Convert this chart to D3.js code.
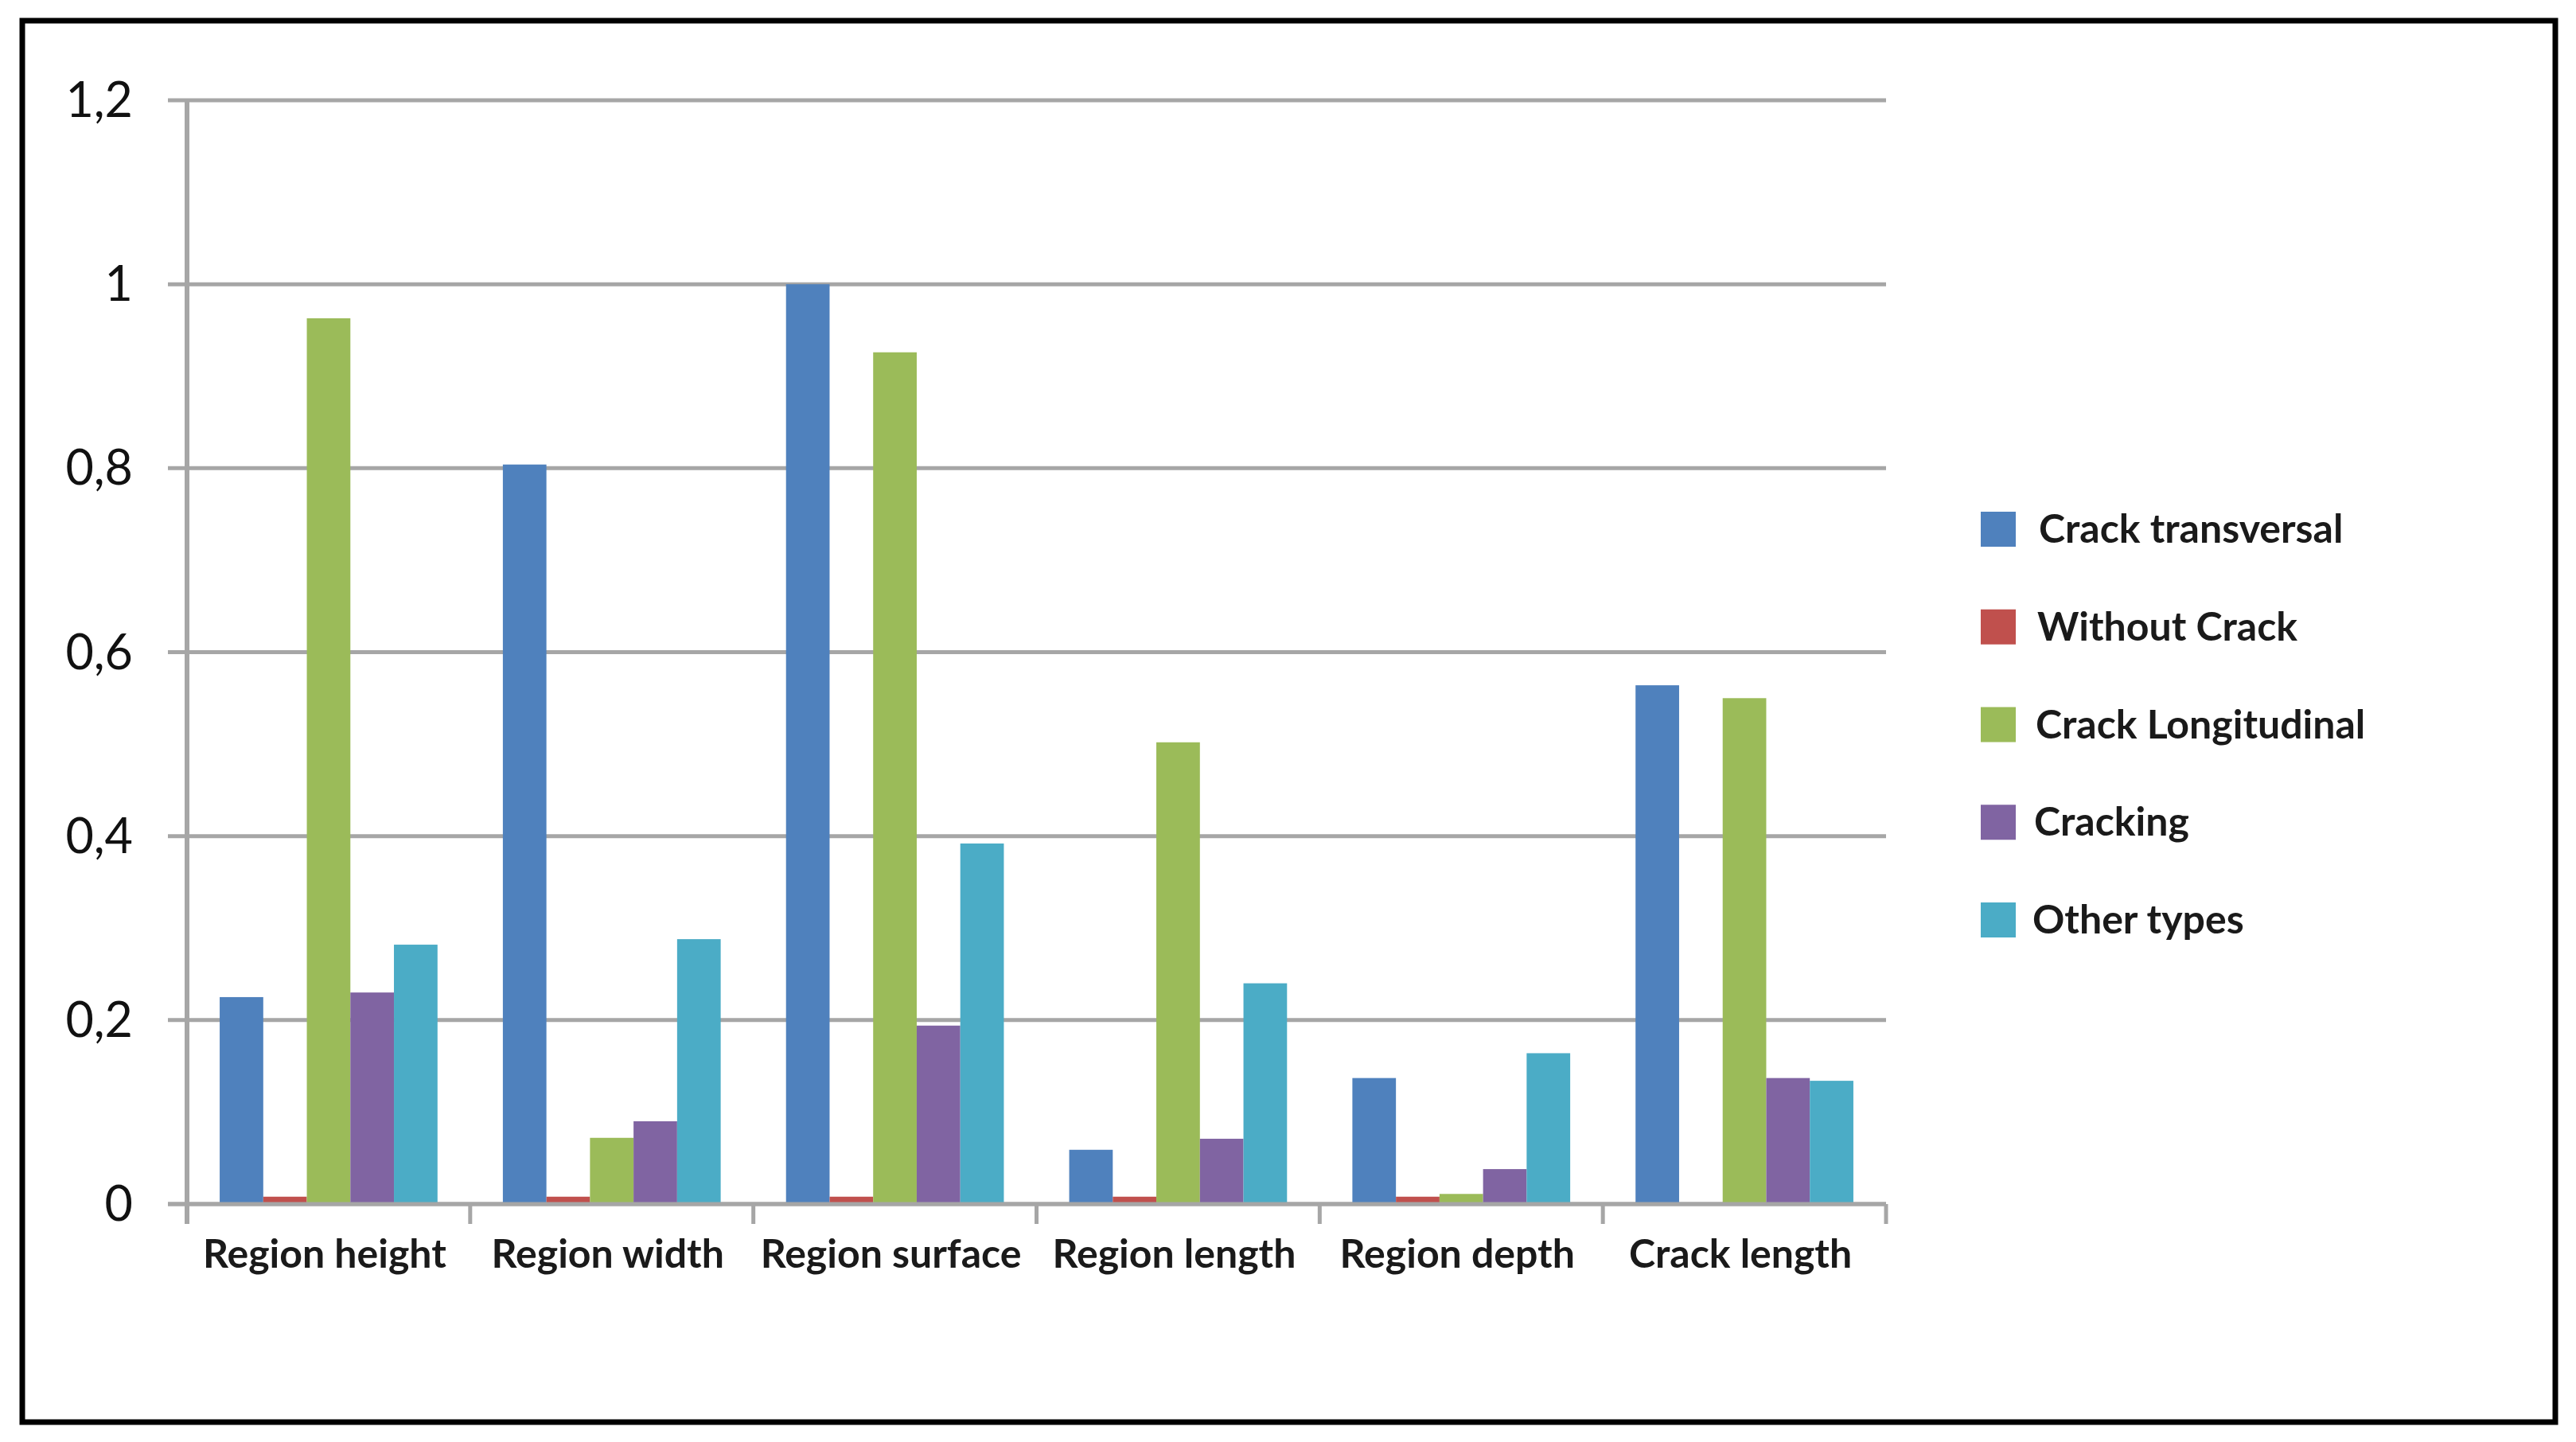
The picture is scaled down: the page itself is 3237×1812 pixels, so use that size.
<!DOCTYPE html>
<html>
<head>
<meta charset="utf-8">
<script src="https://cdn.jsdelivr.net/npm/d3@7"></script>
<style>
  html, body { margin: 0; padding: 0; background: #ffffff; }
  svg { display: block; }
</style>
</head>
<body>
<script>
// ---------- DATA ----------
const categories = ["Region height", "Region width", "Region surface", "Region length", "Region depth", "Crack length"];
const seriesNames = ["Crack transversal", "Without Crack", "Crack Longitudinal", "Cracking", "Other types"];
const crackTransversal  = [0.225, 0.804, 1.000, 0.059, 0.137, 0.564];
const withoutCrack      = [0.008, 0.008, 0.008, 0.008, 0.008, 0.000];
const crackLongitudinal = [0.963, 0.072, 0.926, 0.502, 0.011, 0.550];
const cracking          = [0.230, 0.090, 0.194, 0.071, 0.038, 0.137];
const otherTypes        = [0.282, 0.288, 0.392, 0.240, 0.164, 0.134];
const yTickValues = [0, 0.2, 0.4, 0.6, 0.8, 1, 1.2];
const yTickLabels = ["0", "0,2", "0,4", "0,6", "0,8", "1", "1,2"];
const seriesColors = ["#4F81BD", "#C0504D", "#9BBB59", "#8064A2", "#4BACC6"];

const seriesValues = [crackTransversal, withoutCrack, crackLongitudinal, cracking, otherTypes];

// ---------- LAYOUT ----------
const W = 3237, H = 1812;
const plotLeft = 235, plotRight = 2370, plotTop = 126, plotBottom = 1513;
const gridExt = 24, tickLen = 25;
const gridColor = "#a6a6a6";

const svg = d3.select("body").append("svg")
  .attr("width", W).attr("height", H);

svg.append("rect").attr("x", 0).attr("y", 0).attr("width", W).attr("height", H).attr("fill", "#fff");

const x0 = d3.scaleBand().domain(categories).range([plotLeft, plotRight]).padding(0);
const bw = x0.bandwidth();
const x1 = d3.scaleBand().domain(seriesNames)
  .range([bw * 0.75 / 6.5, bw - bw * 0.75 / 6.5]).padding(0);
const y = d3.scaleLinear().domain([0, 1.2]).range([plotBottom, plotTop]);
const color = d3.scaleOrdinal().domain(seriesNames).range(seriesColors);

// gridlines
svg.append("g").selectAll("line").data(yTickValues).join("line")
  .attr("x1", plotLeft - gridExt).attr("x2", plotRight)
  .attr("y1", d => y(d)).attr("y2", d => y(d))
  .attr("stroke", gridColor).attr("stroke-width", 5);

// y tick labels
svg.append("g").selectAll("text").data(yTickValues).join("text")
  .attr("x", 167).attr("y", d => y(d) + 21)
  .attr("text-anchor", "end")
  .attr("font-family", "Lato, 'Open Sans', sans-serif")
  .attr("font-size", 61)
  .attr("fill", "#111")
  .text((d, i) => yTickLabels[i]);

// bars
const groups = svg.append("g").selectAll("g").data(categories).join("g")
  .attr("transform", d => `translate(${x0(d)},0)`);
groups.selectAll("rect")
  .data((c, ci) => seriesNames.map((s, si) => ({ s, v: seriesValues[si][ci] })))
  .join("rect")
  .attr("x", d => x1(d.s))
  .attr("width", x1.bandwidth())
  .attr("y", d => y(d.v))
  .attr("height", d => y(0) - y(d.v))
  .attr("fill", d => color(d.s));

// vertical axis line
svg.append("line")
  .attr("x1", plotLeft).attr("x2", plotLeft)
  .attr("y1", plotTop).attr("y2", plotBottom + tickLen)
  .attr("stroke", gridColor).attr("stroke-width", 6);

// bottom axis line
svg.append("line")
  .attr("x1", plotLeft - gridExt).attr("x2", plotRight)
  .attr("y1", y(0)).attr("y2", y(0))
  .attr("stroke", gridColor).attr("stroke-width", 5);

// category ticks at band boundaries
const boundaries = categories.map(c => x0(c)).concat([x0(categories[categories.length - 1]) + bw]);
svg.append("g").selectAll("line").data(boundaries.slice(1)).join("line")
  .attr("x1", d => d).attr("x2", d => d)
  .attr("y1", y(0)).attr("y2", y(0) + tickLen)
  .attr("stroke", gridColor).attr("stroke-width", 5);

// category labels
svg.append("g").selectAll("text").data(categories).join("text")
  .attr("x", d => x0(d) + bw / 2 - 5)
  .attr("y", 1593)
  .attr("text-anchor", "middle")
  .attr("font-family", "Lato, 'Open Sans', sans-serif")
  .attr("font-weight", "bold")
  .attr("font-size", 50)
  .attr("fill", "#1a1a1a")
  .text(d => d);

// legend
const legendTop = 665, legendStep = 122.75;
const leg = svg.append("g").selectAll("g").data(seriesNames).join("g")
  .attr("transform", (d, i) => `translate(0,${legendTop + i * legendStep})`);
leg.append("rect")
  .attr("x", 2489).attr("y", -22).attr("width", 44).attr("height", 44)
  .attr("fill", d => color(d));
leg.append("text")
  .attr("x", (d, i) => 2562 - i * 2)
  .attr("y", 17)
  .attr("font-family", "Lato, 'Open Sans', sans-serif")
  .attr("font-weight", "bold")
  .attr("font-size", 50)
  .attr("fill", "#1a1a1a")
  .text(d => d);

// outer frame
svg.append("rect")
  .attr("x", 28).attr("y", 26).attr("width", 3183).attr("height", 1761)
  .attr("fill", "none").attr("stroke", "#000").attr("stroke-width", 7);
</script>
</body>
</html>
